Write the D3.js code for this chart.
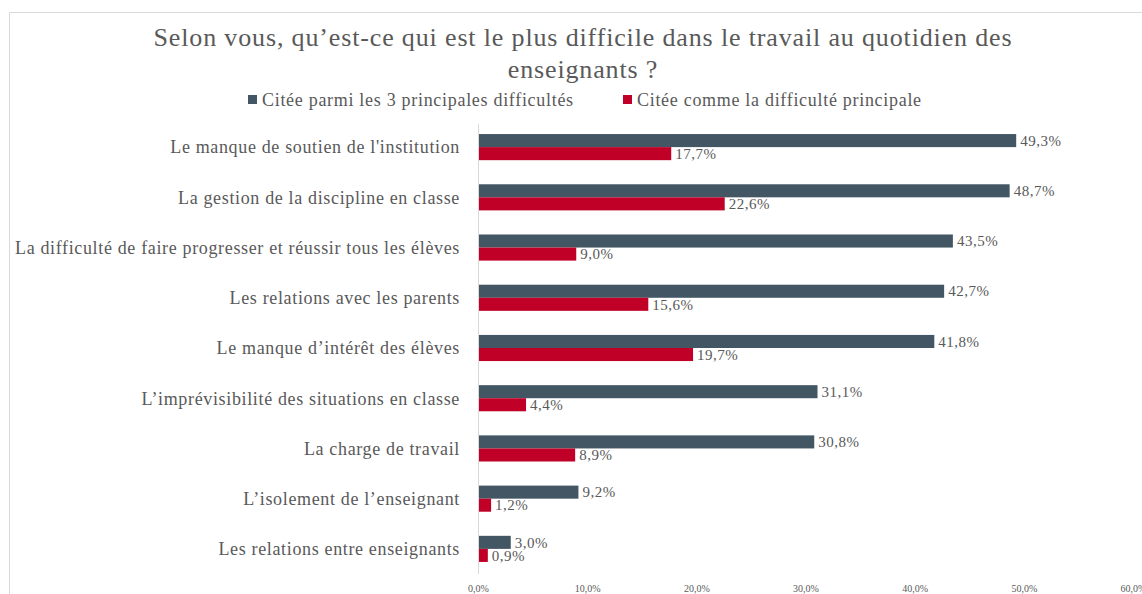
<!DOCTYPE html>
<html>
<head>
<meta charset="utf-8">
<script src="https://cdn.jsdelivr.net/npm/d3@7"></script>
<style>
  body { margin: 0; background: #fff; }
  text { font-family: "Liberation Serif", "DejaVu Serif", serif; fill: #595959; }
</style>
</head>
<body>
<div id="chart"></div>
<script>
var categories = [
    "Le manque de soutien de l'institution",
    "La gestion de la discipline en classe",
    "La difficulté de faire progresser et réussir tous les élèves",
    "Les relations avec les parents",
    "Le manque d’intérêt des élèves",
    "L’imprévisibilité des situations en classe",
    "La charge de travail",
    "L’isolement de l’enseignant",
    "Les relations entre enseignants"
];
var top3 = [49.3, 48.7, 43.5, 42.7, 41.8, 31.1, 30.8, 9.2, 3.0];
var principale = [17.7, 22.6, 9.0, 15.6, 19.7, 4.4, 8.9, 1.2, 0.9];
var seriesNames = ["Citée parmi les 3 principales difficultés", "Citée comme la difficulté principale"];
var xTicks = [0, 10, 20, 30, 40, 50, 60];

(function() {
    var width = 1142,
        height = 594,
        colors = ["#435663", "#C00027"];

    var fmt = v => d3.format(".1f")(v).replace(".", ",") + "%";

    var svg = d3.select("#chart")
        .append("svg")
        .attr("width", width)
        .attr("height", height);

    // frame
    svg.append("path")
        .attr("d", "M9.5," + height + "V12.5H" + width)
        .attr("fill", "none")
        .attr("stroke", "#d9d9d9");

    // title
    var title = svg.append("text")
        .attr("text-anchor", "middle")
        .attr("font-size", 26)
        .attr("letter-spacing", 0.85);
    title.append("tspan").attr("x", 583).attr("y", 46)
        .text("Selon vous, qu’est-ce qui est le plus difficile dans le travail au quotidien des");
    title.append("tspan").attr("x", 583).attr("y", 78)
        .text("enseignants ?");

    // legend
    var legend = svg.append("g").attr("transform", "translate(0,101)");
    var legX = [248, 623];
    seriesNames.forEach((name, i) => {
        legend.append("rect")
            .attr("x", legX[i]).attr("y", -6)
            .attr("width", 9).attr("height", 9)
            .attr("fill", colors[i]);
        legend.append("text")
            .attr("x", legX[i] + 14).attr("y", 5)
            .attr("font-size", 18)
            .attr("letter-spacing", 0.7)
            .text(name);
    });

    var x = d3.scaleLinear().domain([0, 60]).range([478, 1133]);
    var y = d3.scaleBand().domain(categories).range([122, 574]).paddingInner(0.48).paddingOuter(0.24);

    var data = categories.map((c, i) => ({ cat: c, vals: [top3[i], principale[i]] }));

    var g = svg.append("g");
    var rows = g.selectAll(".row")
        .data(data)
        .enter().append("g")
        .attr("class", "row");

    [0, 1].forEach(s => {
        rows.append("rect")
            .attr("x", x(0))
            .attr("y", d => y(d.cat) + s * y.bandwidth() / 2)
            .attr("width", d => x(d.vals[s]) - x(0))
            .attr("height", y.bandwidth() / 2)
            .attr("fill", colors[s]);
        rows.append("text")
            .attr("x", d => x(d.vals[s]) + 4)
            .attr("y", d => y(d.cat) + s * y.bandwidth() / 2 + y.bandwidth() / 4)
            .attr("dy", "0.35em")
            .attr("font-size", 15)
            .attr("letter-spacing", 0.5)
            .attr("fill", "#404040")
            .text(d => fmt(d.vals[s]));
    });

    // category labels
    rows.append("text")
        .attr("x", 460)
        .attr("y", d => y(d.cat) + y.bandwidth() / 2)
        .attr("dy", "0.35em")
        .attr("text-anchor", "end")
        .attr("font-size", 18)
        .attr("letter-spacing", 0.65)
        .text(d => d.cat);

    // vertical axis line
    svg.append("line")
        .attr("x1", x(0) + 0.5).attr("x2", x(0) + 0.5)
        .attr("y1", 124).attr("y2", 574)
        .attr("stroke", "#d9d9d9");

    // x axis
    var xAxis = svg.append("g")
        .attr("transform", "translate(0,582)")
        .call(d3.axisBottom(x).tickValues(xTicks).tickSize(0).tickFormat(fmt));
    xAxis.select(".domain").remove();
    xAxis.selectAll("text")
        .attr("font-size", 10)
        .attr("font-family", "Liberation Serif, serif")
        .attr("fill", "#595959");
})();
</script>
</body>
</html>
